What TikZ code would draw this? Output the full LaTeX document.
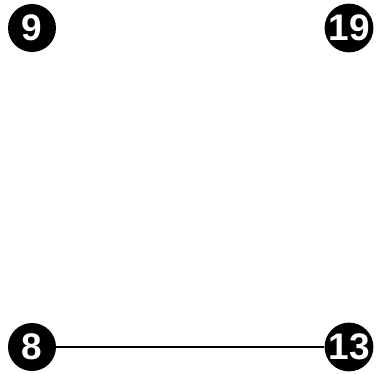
\documentclass[tikz,border=0pt]{standalone}
\usepackage{fontspec}
\setmainfont{Liberation Sans}
\usetikzlibrary{positioning}

\tikzset{
  vertex/.style={circle, fill=black, minimum size=48pt, inner sep=0pt,
    text=white, font=\fontsize{37}{37}\selectfont\bfseries},
  edge/.style={line width=2pt, black}
}

\begin{document}
\begin{tikzpicture}[x=1pt, y=-1pt]
\useasboundingbox (0,0) rectangle (377,373);

% vertices
\node[vertex] (v9)  at (32,28)   {9};
\node[vertex] (v19) at (349,28)  {19};
\node[vertex] (v8)  at (32,347)  {8};
\node[vertex] (v13) at (349,347) {13};

% edges
\draw[edge] (v8) -- (v13);
\end{tikzpicture}
\end{document}
